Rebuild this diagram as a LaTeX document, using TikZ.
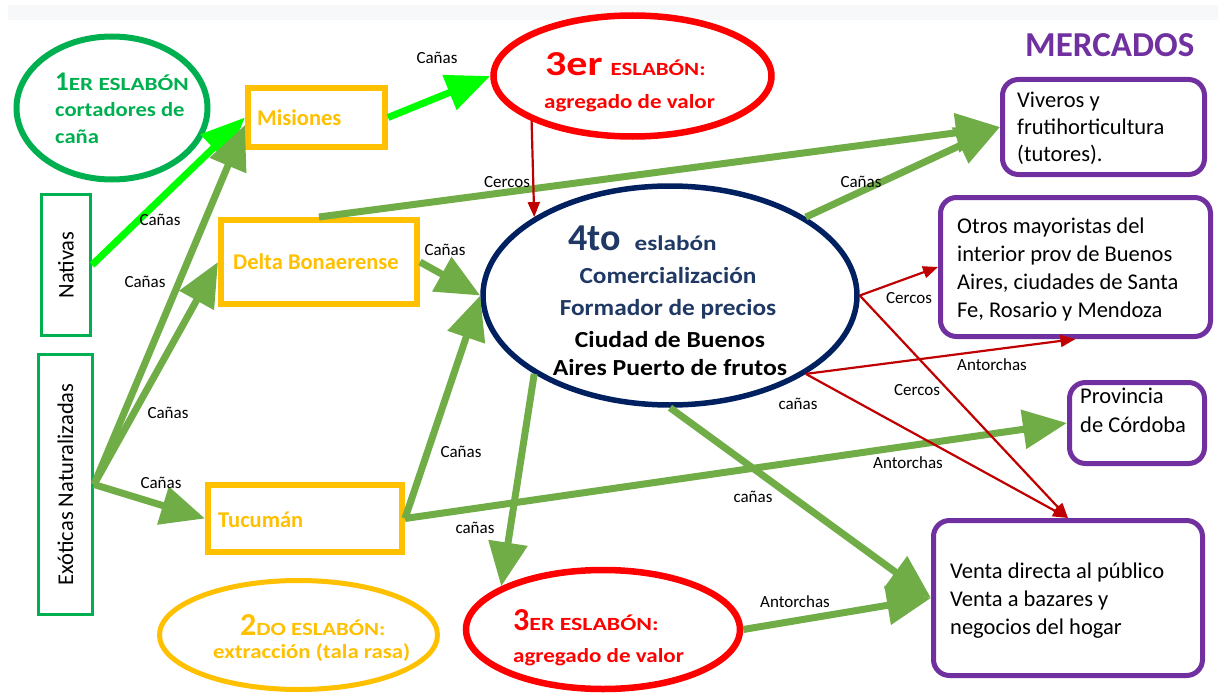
\documentclass[tikz,border=0pt]{standalone}
\usepackage{fontspec}
\setmainfont{Carlito}
\usetikzlibrary{arrows.meta,shapes.geometric}
\definecolor{cgreen}{HTML}{00B050}
\definecolor{corange}{HTML}{FFC000}
\definecolor{clime}{HTML}{00FF00}
\definecolor{colive}{HTML}{70AD47}
\definecolor{cred}{HTML}{FF0000}
\definecolor{cdarkred}{HTML}{C00000}
\definecolor{cnavy}{HTML}{002060}
\definecolor{ctextblue}{HTML}{1F3864}
\definecolor{cpurple}{HTML}{7030A0}
\definecolor{cband}{HTML}{F7F8FA}
\newcommand{\myhs}[2]{\scalebox{#1}[1]{#2}}
\newcommand{\myfs}[1]{\fontsize{#1}{#1}\selectfont}
\begin{document}
\begin{tikzpicture}[x=1pt,y=-1pt,
  ell/.style={shape=ellipse,fill=white,inner sep=0pt},
  obox/.style={rectangle,draw=corange,line width=6pt,fill=white,inner sep=0pt},
  gbox/.style={rectangle,draw=cgreen,line width=3pt,fill=white,inner sep=0pt,font=\myfs{22.5}},
  pbox/.style={rectangle,draw=cpurple,line width=5pt,rounded corners=16pt,fill=white,inner sep=0pt},
  txt/.style={inner sep=0pt,anchor=base west},
  ctxt/.style={inner sep=0pt,anchor=base},
  lbl/.style={inner sep=0pt,font=\myfs{17}},
  limearrow/.style={draw=clime,line width=7pt,-{Triangle[length=44pt,width=36pt]}},
  olivearrow/.style={draw=colive,line width=7pt,-{Triangle[length=44pt,width=38pt]}},
  redarrow/.style={draw=cdarkred,line width=2.2pt,-{Triangle[length=15pt,width=12pt]}}
]
\useasboundingbox (0,0) rectangle (1224,693);
\fill[white] (0,0) rectangle (1224,693);
\fill[cband] (8,5) rectangle (1218,20);

% ellipses
\node[ell, draw=cgreen, line width=6pt, minimum width=191pt, minimum height=143pt] (e1) at (112,108) {};
\node[ell, draw=cred, line width=6.5pt, minimum width=278pt, minimum height=121pt] (e3t) at (632.5,76) {};
\node[ell, draw=cnavy, line width=5.5pt, minimum width=374pt, minimum height=219pt] (e4) at (670,295.5) {};
\node[ell, draw=cred, line width=6.5pt, minimum width=274pt, minimum height=119pt] (e3b) at (603,629.5) {};
\node[ell, draw=corange, line width=5pt, minimum width=278pt, minimum height=109pt] (e2) at (298.5,635) {};

% boxes
\node[obox, minimum width=137pt, minimum height=59pt] (mis) at (316.5,117.5) {};
\node[obox, minimum width=196pt, minimum height=84pt] (del) at (319,262) {};
\node[obox, minimum width=194pt, minimum height=67pt] (tuc) at (305,518.5) {};
\node[gbox, minimum width=49pt, minimum height=141pt] (nat) at (66,265) {\rotatebox{90}{Nativas}};
\node[gbox, minimum width=54pt, minimum height=260pt] (exo) at (65.5,484.5) {\rotatebox{90}{Exóticas Naturalizadas}};
\node[pbox, minimum width=202pt, minimum height=95pt] (viv) at (1103.5,127) {};
\node[pbox, minimum width=270pt, minimum height=139pt] (otr) at (1075.5,267) {};
\node[pbox, minimum width=135pt, minimum height=81pt] (cor) at (1137,423) {};
\node[pbox, minimum width=269pt, minimum height=155pt] (ven) at (1068,598) {};

% connectors
\draw[limearrow] (nat.east) -- (mis.west);
\draw[limearrow] (mis.east) -- (e3t.west);
\draw[olivearrow] (exo.east) -- (mis.186);
\draw[olivearrow] (exo.east) -- (del.west);
\draw[olivearrow] (exo.east) -- (tuc.west);
\draw[olivearrow] (del.east) -- (e4.west);
\draw[olivearrow] (tuc.east) -- (e4.west);
\draw[olivearrow] (del.north) -- (viv.west);
\draw[olivearrow] (e4.30) -- (viv.west);
\draw[olivearrow] (tuc.east) -- (cor.west);
\draw[olivearrow] (e4.210) -- (e3b.157);
\draw[olivearrow] (e4.south) -- (ven.west);
\draw[olivearrow] (e3b.east) -- (ven.west);
\draw[redarrow] (e3t.204) -- (e4.150);
\draw[redarrow] (e4.east) -- (otr.west);
\draw[redarrow] (e4.east) -- (ven.north);
\draw[redarrow] (e4.330) -- (otr.south);
\draw[redarrow] (e4.330) -- (ven.north);

% ellipse texts
\node[txt, text=cgreen, font=\bfseries] (t1a) at (55,90) {{\myfs{27}1}{\myfs{18.6}\myhs{1.25}{ER ESLABÓN}}};
\node[txt, text=cgreen, font=\bfseries\myfs{20}] (t1b) at (55,117) {\myhs{1.13}{cortadores de}};
\node[txt, text=cgreen, font=\bfseries\myfs{20}] (t1c) at (55,143) {\myhs{1.13}{caña}};

\node[txt, text=cred, font=\bfseries] (t3a) at (545,75) {{\myfs{35}\myhs{1.2}{3er}}\hspace{8pt}{\myfs{18.6}\myhs{1.23}{ESLABÓN:}}};
\node[txt, text=cred, font=\bfseries\myfs{20}] (t3b) at (544,108) {\myhs{1.15}{agregado de valor}};

\node[txt, text=ctextblue, font=\bfseries] (t4a) at (568,250) {{\myfs{38}4to}\hspace{14pt}{\myfs{21}\myhs{1.2}{eslabón}}};
\node[ctxt, text=ctextblue, font=\bfseries\myfs{23}] (t4b) at (668,283) {\myhs{1.1}{Comercialización}};
\node[ctxt, text=ctextblue, font=\bfseries\myfs{23}] (t4c) at (668,315) {\myhs{1.1}{Formador de precios}};
\node[ctxt, text=black, font=\bfseries\myfs{23}] (t4d) at (670,347) {\myhs{1.11}{Ciudad de Buenos}};
\node[ctxt, text=black, font=\bfseries\myfs{23}] (t4e) at (670,375) {\myhs{1.12}{Aires Puerto de frutos}};

\node[txt, text=cred, font=\bfseries] (t5a) at (513,630) {{\myfs{32}3}{\myfs{18.6}\myhs{1.28}{ER ESLABÓN:}}};
\node[txt, text=cred, font=\bfseries\myfs{20}] (t5b) at (513,662) {\myhs{1.15}{agregado de valor}};

\node[txt, text=corange, font=\bfseries] (t2a) at (240,635) {{\myfs{32}2}{\myfs{18.6}\myhs{1.22}{DO ESLABÓN:}}};
\node[txt, text=corange, font=\bfseries\myfs{20}] (t2b) at (213,658) {\myhs{1.14}{extracción (tala rasa)}};

% box texts
\node[txt, text=corange, font=\bfseries\myfs{22.5}] (tmis) at (257,125) {Misiones};
\node[txt, text=corange, font=\bfseries\myfs{22.5}] (tdel) at (233,269) {Delta Bonaerense};
\node[txt, text=corange, font=\bfseries\myfs{22.5}] (ttuc) at (218,527) {Tucumán};

\node[txt, text=cpurple, font=\bfseries\myfs{35}] (tmer) at (1025,57) {MERCADOS};

\node[txt, font=\myfs{22.5}] (tv1) at (1017,107) {Viveros y};
\node[txt, font=\myfs{22.5}] (tv2) at (1017,134) {frutihorticultura};
\node[txt, font=\myfs{22.5}] (tv3) at (1017,161) {(tutores).};

\node[txt, font=\myfs{22.5}] (to1) at (957,233) {Otros mayoristas del};
\node[txt, font=\myfs{22.5}] (to2) at (957,261) {interior prov de Buenos};
\node[txt, font=\myfs{22.5}] (to3) at (957,289) {Aires, ciudades de Santa};
\node[txt, font=\myfs{22.5}] (to4) at (957,317) {Fe, Rosario y Mendoza};

\node[txt, font=\myfs{22.5}] (tc1) at (1080,403) {Provincia};
\node[txt, font=\myfs{22.5}] (tc2) at (1080,432) {de Córdoba};

\node[txt, font=\myfs{22.5}] (tw1) at (950,578) {Venta directa al público};
\node[txt, font=\myfs{22.5}] (tw2) at (950,606) {Venta a bazares y};
\node[txt, font=\myfs{22.5}] (tw3) at (950,634) {negocios del hogar};

% connector labels
\node[lbl] (l1) at (437,58) {Cañas};
\node[lbl] (l2) at (160,220) {Cañas};
\node[lbl] (l3) at (145,282) {Cañas};
\node[lbl] (l4) at (168,413) {Cañas};
\node[lbl] (l5) at (161,483) {Cañas};
\node[lbl] (l6) at (445,250) {Cañas};
\node[lbl] (l7) at (461,452) {Cañas};
\node[lbl] (l8) at (475,528) {cañas};
\node[lbl] (l9) at (753,497) {cañas};
\node[lbl] (l10) at (798,404) {cañas};
\node[lbl] (l11) at (507,182) {Cercos};
\node[lbl] (l12) at (861,182) {Cañas};
\node[lbl] (l13) at (909,298) {Cercos};
\node[lbl] (l14) at (992,365) {Antorchas};
\node[lbl] (l15) at (917,390) {Cercos};
\node[lbl] (l16) at (908,463) {Antorchas};
\node[lbl] (l17) at (795,602) {Antorchas};
\end{tikzpicture}
\end{document}
